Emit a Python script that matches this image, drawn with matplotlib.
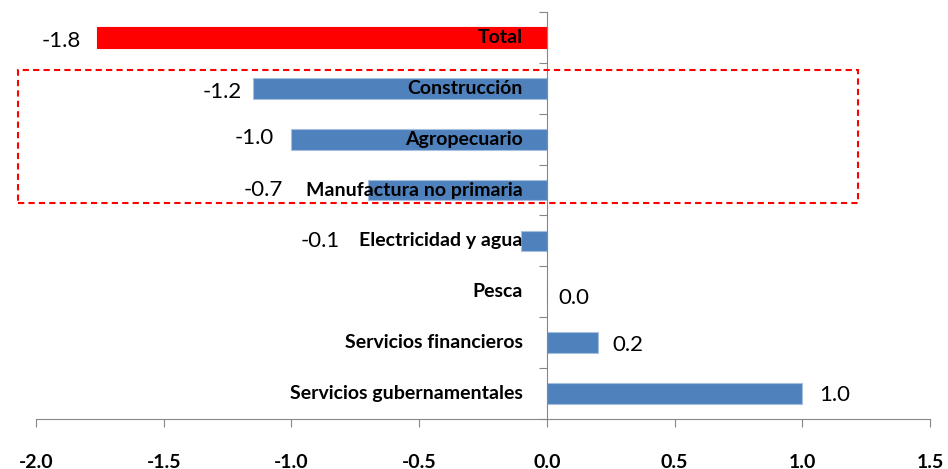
import numpy as np
import matplotlib.pyplot as plt
from matplotlib.patches import Rectangle

sectors = ["Total", "Construcción", "Agropecuario", "Manufactura no primaria",
           "Electricidad y agua", "Pesca", "Servicios financieros",
           "Servicios gubernamentales"]
values = [-1.76, -1.15, -1.0, -0.7, -0.1, 0.0, 0.2, 1.0]
value_labels = ["-1.8", "-1.2", "-1.0", "-0.7", "-0.1", "0.0", "0.2", "1.0"]
xticks = [-2.0, -1.5, -1.0, -0.5, 0.0, 0.5, 1.0, 1.5]

# label offsets from the bar end, in pixels (layout only)
lab_dx = [-36, -31, -37, -105, -201, 27, 30, 32]
lab_dy = [-4, -4, 1, 0, 0, -6, -2, -1]

plt.rcParams['font.family'] = ['Lato', 'DejaVu Sans']

fig = plt.figure(figsize=(9.48, 4.69), dpi=100)
ax = fig.add_axes([36/948, 1-419/469, (930-36)/948, (419-12)/469])

y = np.arange(len(sectors))
colors = ['#ff0000'] + ['#4f81bd']*(len(sectors)-1)
edges = ['#ff0000'] + ['#a7bfde']*(len(sectors)-1)
ax.barh(y, values, height=0.41, color=colors, edgecolor=edges, linewidth=0.8, zorder=2)

ax.set_xlim(-2.0, 1.5)
ax.set_ylim(len(sectors)-0.5, -0.5)

for i, (v, s) in enumerate(zip(values, value_labels)):
    ax.annotate(s, (v, i), xytext=(lab_dx[i], lab_dy[i]), textcoords='offset pixels',
                ha='center', va='center', fontsize=16, color='black', zorder=4)
    ax.annotate(sectors[i], (0, i), xytext=(-24, 0), textcoords='offset pixels',
                ha='right', va='center', fontsize=14, fontweight='bold', color='black', zorder=3)

ax.set_xticks(xticks)
ax.set_xticklabels([f"{t:.1f}" for t in xticks], fontsize=14, fontweight='bold')
ax.set_yticks(np.arange(-0.5, len(sectors)))
ax.set_yticklabels([])
ax.tick_params(axis='x', direction='out', length=6, color='#868686', pad=19)
ax.tick_params(axis='y', direction='out', length=6, color='#868686')

ax.spines['left'].set_position(('data', 0))
ax.spines['left'].set_color('#868686')
ax.spines['bottom'].set_color('#868686')
ax.spines['left'].set_zorder(3)
ax.spines['top'].set_visible(False)
ax.spines['right'].set_visible(False)

box = Rectangle((18/948, 1-203/469), 840/948, 133/469, transform=fig.transFigure,
                fill=False, edgecolor='#ff0000', linewidth=1.5, linestyle=(0, (3, 2)),
                zorder=5)
fig.patches.append(box)

plt.savefig('out.png', dpi=100)
